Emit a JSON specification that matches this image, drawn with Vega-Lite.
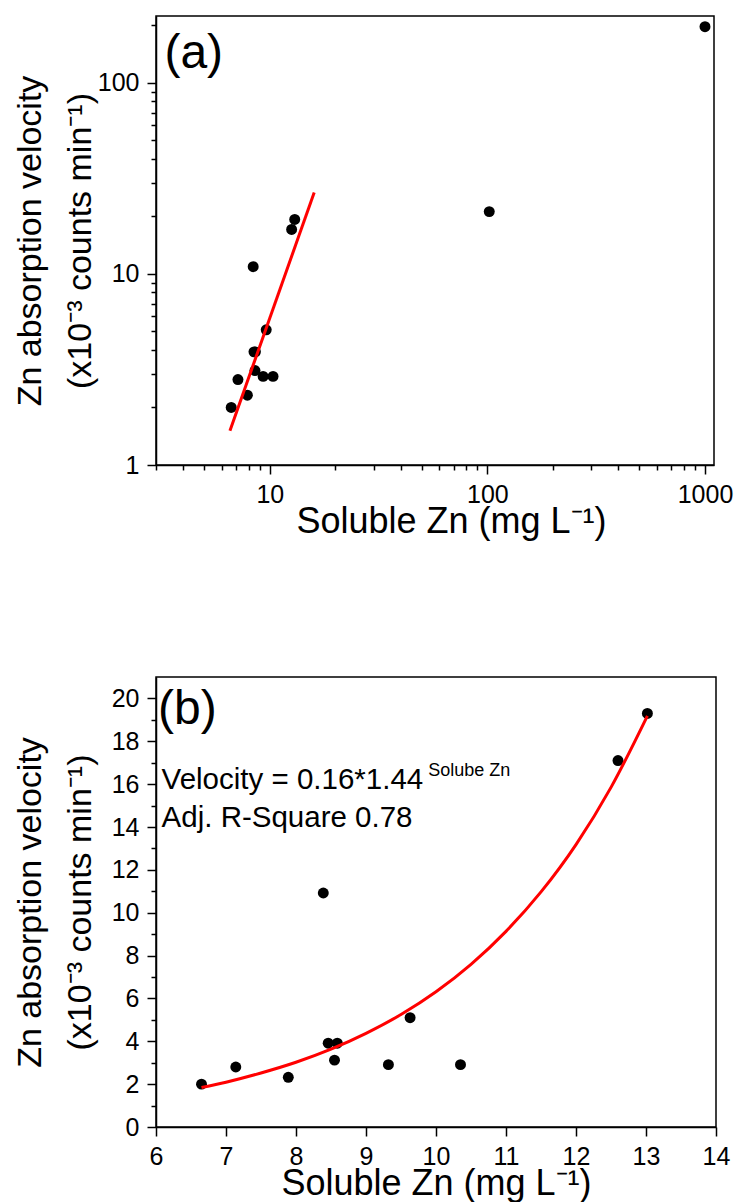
{
  "$schema": "https://vega.github.io/schema/vega-lite/v6.json",
  "autosize": {"type": "pad"},
  "padding": {"left": 12, "top": 12, "right": 0, "bottom": 0},
  "background": "white",
  "bounds": "flush",
  "spacing": 212,
  "config": {
    "font": "Liberation Sans",
    "view": {"stroke": "black", "strokeWidth": 1.5},
    "axis": {
      "grid": false,
      "domainColor": "black",
      "domainWidth": 1.5,
      "tickColor": "black",
      "tickWidth": 1.5,
      "labelFont": "Liberation Sans",
      "labelFontSize": 25,
      "labelColor": "black",
      "labelPadding": 8,
      "labelOverlap": false,
      "labelFlush": false,
      "titleFont": "Liberation Sans",
      "titleFontSize": 34,
      "titleFontWeight": "normal",
      "titleColor": "black"
    },
    "text": {"font": "Liberation Sans", "color": "black"}
  },
  "datasets": {
    "measured": [
      {"zn": 6.65, "vel": 2.0},
      {"zn": 7.14, "vel": 2.8},
      {"zn": 7.89, "vel": 2.32},
      {"zn": 8.46, "vel": 3.91},
      {"zn": 8.59, "vel": 3.91},
      {"zn": 8.55, "vel": 3.12},
      {"zn": 9.32, "vel": 2.91},
      {"zn": 9.63, "vel": 5.1},
      {"zn": 10.35, "vel": 2.91},
      {"zn": 8.39, "vel": 10.92},
      {"zn": 12.6, "vel": 17.1},
      {"zn": 13.02, "vel": 19.3},
      {"zn": 102, "vel": 21.2},
      {"zn": 1000, "vel": 197}
    ],
    "fitA": [
      {"zn": 6.56, "vel": 1.51},
      {"zn": 16.0, "vel": 26.7}
    ],
    "fitB": [
      {"zn": 6.65, "vel": 1.84},
      {"zn": 7.0, "vel": 2.09},
      {"zn": 7.5, "vel": 2.52},
      {"zn": 8.0, "vel": 3.02},
      {"zn": 8.5, "vel": 3.63},
      {"zn": 9.0, "vel": 4.37},
      {"zn": 9.5, "vel": 5.25},
      {"zn": 10.0, "vel": 6.31},
      {"zn": 10.5, "vel": 7.59},
      {"zn": 11.0, "vel": 9.13},
      {"zn": 11.5, "vel": 10.97},
      {"zn": 12.0, "vel": 13.18},
      {"zn": 12.5, "vel": 15.85},
      {"zn": 13.02, "vel": 19.19}
    ],
    "labelA": [{"zn": 3.28, "vel": 120, "label": "(a)"}],
    "labelB": [{"zn": 6.03, "vel": 18.83, "label": "(b)"}],
    "eqB": [
      {"zn": 6.08, "vel": 15.79, "label": "Velocity = 0.16*1.44"},
      {"zn": 6.08, "vel": 14.02, "label": "Adj. R-Square 0.78"}
    ],
    "supB": [{"zn": 9.89, "vel": 16.4, "label": "Solube Zn"}]
  },
  "vconcat": [
    {
      "width": 558,
      "height": 449,
      "encoding": {
        "x": {
          "field": "zn",
          "type": "quantitative",
          "scale": {"type": "log", "domain": [3, 1100], "nice": false},
          "axis": {
            "title": "Soluble Zn (mg L⁻¹)",
            "titleFontSize": 36,
            "values": [3, 4, 5, 6, 7, 8, 9, 10, 20, 30, 40, 50, 60, 70, 80, 90, 100, 200, 300, 400, 500, 600, 700, 800, 900, 1000],
            "format": "d",
            "labelExpr": "(datum.value == 10 || datum.value == 100 || datum.value == 1000) ? datum.label : ''",
            "tickSize": {"condition": {"test": "datum.value == 10 || datum.value == 100 || datum.value == 1000", "value": 9}, "value": 5},
            "titleX": 295,
            "titleY": 67,
            "titleAlign": "center",
            "titleBaseline": "alphabetic"
          }
        },
        "y": {
          "field": "vel",
          "type": "quantitative",
          "scale": {"type": "log", "domain": [1, 224], "nice": false},
          "axis": {
            "title": ["Zn absorption velocity", "(x10⁻³ counts min⁻¹)"],
            "values": [1, 2, 3, 4, 5, 6, 7, 8, 9, 10, 20, 30, 40, 50, 60, 70, 80, 90, 100, 200],
            "format": "d",
            "labelExpr": "(datum.value == 1 || datum.value == 10 || datum.value == 100) ? datum.label : ''",
            "tickSize": {"condition": {"test": "datum.value == 1 || datum.value == 10 || datum.value == 100", "value": 9}, "value": 5},
            "titleX": -116,
            "titleY": 224.5,
            "titleAngle": -90,
            "titleAlign": "center",
            "titleBaseline": "alphabetic",
            "titleLineHeight": 50
          }
        }
      },
      "layer": [
        {"data": {"name": "measured"}, "mark": {"type": "circle", "size": 120, "color": "black", "opacity": 1}},
        {"data": {"name": "fitA"}, "mark": {"type": "line", "color": "red", "strokeWidth": 3}},
        {"data": {"name": "labelA"}, "mark": {"type": "text", "fontSize": 48, "align": "left", "baseline": "alphabetic"}, "encoding": {"text": {"field": "label"}}}
      ]
    },
    {
      "width": 560,
      "height": 450,
      "encoding": {
        "x": {
          "field": "zn",
          "type": "quantitative",
          "scale": {"domain": [6, 14], "nice": false, "zero": false},
          "axis": {
            "title": "Soluble Zn (mg L⁻¹)",
            "titleFontSize": 36,
            "values": [6, 6.5, 7, 7.5, 8, 8.5, 9, 9.5, 10, 10.5, 11, 11.5, 12, 12.5, 13, 13.5, 14],
            "format": "d",
            "labelExpr": "datum.value % 1 == 0 ? datum.label : ''",
            "tickSize": {"condition": {"test": "datum.value % 1 == 0", "value": 9}, "value": 5},
            "titleY": 67,
            "titleAlign": "center",
            "titleBaseline": "alphabetic"
          }
        },
        "y": {
          "field": "vel",
          "type": "quantitative",
          "scale": {"domain": [0, 21], "nice": false},
          "axis": {
            "title": ["Zn absorption velocity", "(x10⁻³ counts min⁻¹)"],
            "values": [0, 1, 2, 3, 4, 5, 6, 7, 8, 9, 10, 11, 12, 13, 14, 15, 16, 17, 18, 19, 20],
            "format": "d",
            "labelExpr": "datum.value % 2 == 0 ? datum.label : ''",
            "tickSize": {"condition": {"test": "datum.value % 2 == 0", "value": 9}, "value": 5},
            "titleX": -116,
            "titleY": 225,
            "titleAngle": -90,
            "titleAlign": "center",
            "titleBaseline": "alphabetic",
            "titleLineHeight": 50
          }
        }
      },
      "layer": [
        {"data": {"name": "measured"}, "transform": [{"filter": "datum.zn < 20"}], "mark": {"type": "circle", "size": 120, "color": "black", "opacity": 1}},
        {"data": {"name": "fitB"}, "mark": {"type": "line", "color": "red", "strokeWidth": 3, "interpolate": "monotone"}},
        {"data": {"name": "labelB"}, "mark": {"type": "text", "fontSize": 48, "align": "left", "baseline": "alphabetic"}, "encoding": {"text": {"field": "label"}}},
        {"data": {"name": "eqB"}, "mark": {"type": "text", "fontSize": 29.5, "align": "left", "baseline": "alphabetic"}, "encoding": {"text": {"field": "label"}}},
        {"data": {"name": "supB"}, "mark": {"type": "text", "fontSize": 18, "align": "left", "baseline": "alphabetic"}, "encoding": {"text": {"field": "label"}}}
      ]
    }
  ]
}
